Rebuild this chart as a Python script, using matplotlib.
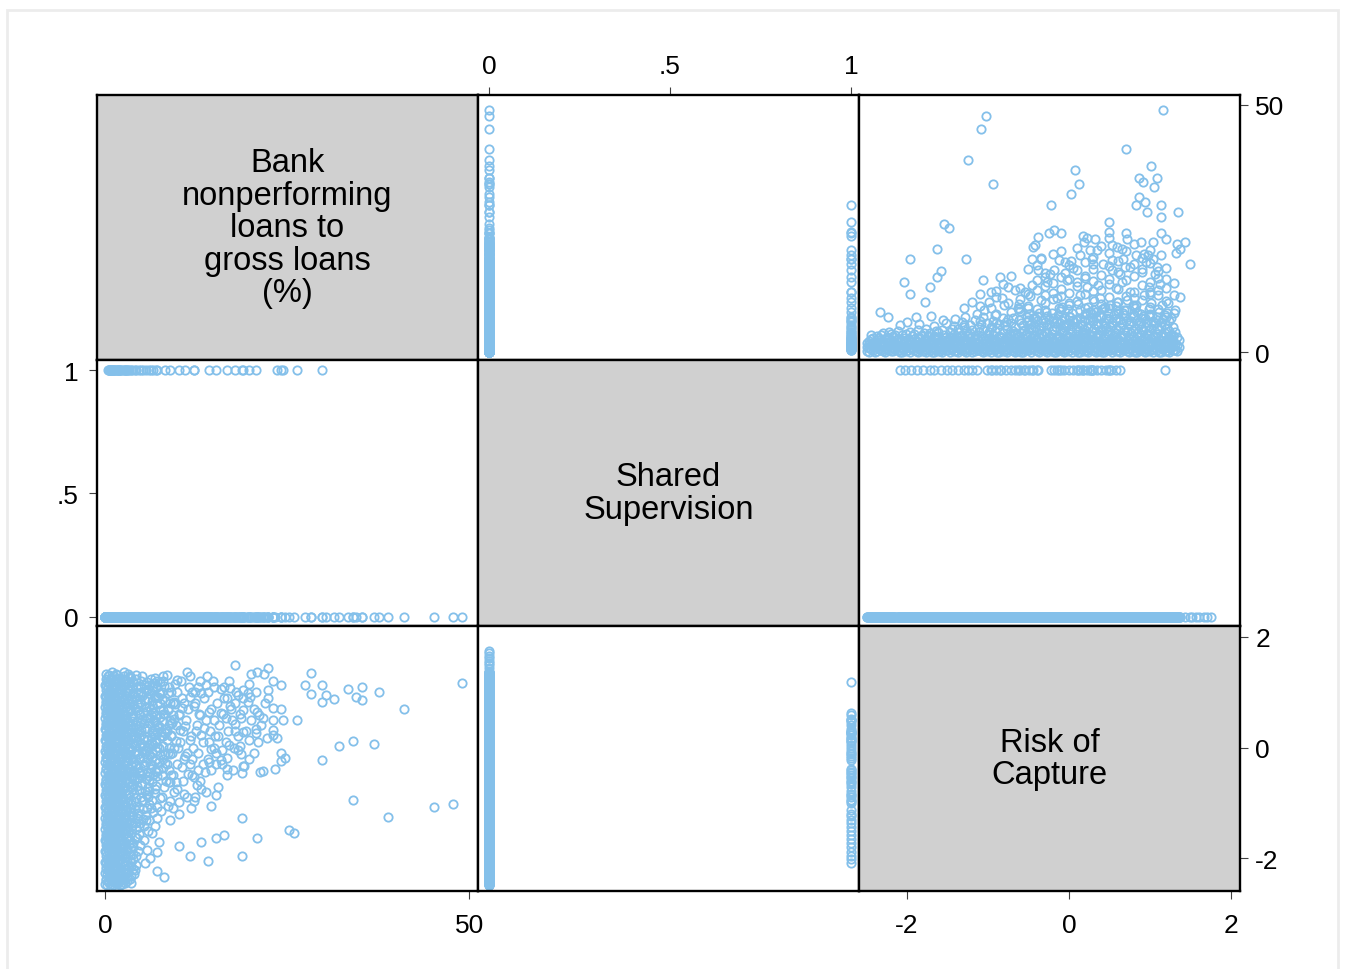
import numpy as np
import matplotlib.pyplot as plt
from matplotlib.patches import Rectangle

plt.rcParams['font.family'] = ['Liberation Sans', 'DejaVu Sans']

# --- data ------------------------------------------------------------------
# dense core (shared supervision = 0): one row of NPL values per risk level
risk_core_rows = [
    -2.49, -2.44, -2.39, -2.34, -2.29, -2.24, -2.19, -2.14, -2.09, -2.04,
    -1.99, -1.94, -1.89, -1.84, -1.79, -1.74, -1.69, -1.64, -1.59, -1.54,
    -1.49, -1.44, -1.39, -1.34, -1.29, -1.24, -1.19, -1.14, -1.09, -1.04,
    -0.99, -0.94, -0.89, -0.84, -0.79, -0.74, -0.69, -0.64, -0.59, -0.54,
    -0.49, -0.44, -0.39, -0.34, -0.29, -0.24, -0.19, -0.14, -0.09, -0.04,
    0.01, 0.06, 0.11, 0.16, 0.21, 0.26, 0.31, 0.36, 0.41, 0.46,
    0.51, 0.56, 0.61, 0.66, 0.71, 0.76, 0.81, 0.86, 0.91, 0.96,
    1.01, 1.06, 1.11, 1.16, 1.21, 1.26, 1.31, 1.36,
]
npl_core_rows = [
    [0.3, 1.1, 2.0], [0.6, 1.5, 2.7, 3.5], [0.1, 1.0, 2.2], [0.7, 1.7, 3.0],
    [0.3, 1.3, 2.4, 4.0], [0.9, 1.9, 3.2], [0.2, 1.4, 2.6], [0.6, 1.7, 3.6],
    [0.1, 1.1, 2.3], [0.7, 1.9, 3.0],
    [0.4, 1.5, 2.7], [0.9, 2.1, 3.4], [0.2, 1.2, 2.4], [0.6, 1.7, 3.0],
    [0.3, 1.3, 2.5, 3.9], [0.8, 2.0, 3.3], [0.1, 1.1, 2.6], [0.5, 1.6, 2.9, 4.4],
    [0.2, 1.3, 2.2], [0.8, 1.9, 3.5],
    [0.4, 1.4, 2.7], [0.9, 2.1, 3.1, 4.7], [0.2, 1.2, 2.4], [0.6, 1.7, 3.3],
    [0.3, 1.5, 2.6, 5.2], [0.8, 2.0, 3.7], [0.1, 1.1, 2.3, 4.5], [0.5, 1.6, 2.9],
    [0.2, 1.3, 3.4, 5.8], [0.7, 1.9, 2.6],
    [0.4, 1.5, 3.0, 4.2], [0.9, 2.2, 3.6, 6.4], [0.1, 1.2, 2.4, 4.9], [0.6, 1.7, 3.1],
    [0.3, 1.4, 2.7, 5.5], [0.8, 2.0, 3.8], [0.2, 1.1, 2.5, 4.4, 7.0], [0.5, 1.6, 3.2],
    [0.1, 1.3, 2.3, 4.0, 6.0], [0.7, 1.8, 3.5],
    [0.4, 1.5, 2.6, 5.0, 7.8], [0.9, 2.1, 3.3, 4.6], [0.2, 1.2, 2.8, 6.3],
    [0.6, 1.7, 3.7, 5.4], [0.3, 1.4, 2.5, 4.2, 8.5], [0.8, 2.0, 3.1, 6.8],
    [0.1, 1.1, 2.4, 4.7, 5.9], [0.5, 1.6, 3.4, 7.6], [0.2, 1.3, 2.7, 4.1, 9.2],
    [0.7, 1.9, 3.6, 5.6],
    [0.4, 1.5, 2.3, 4.8, 7.2], [0.9, 2.2, 3.0, 6.1], [0.1, 1.2, 2.6, 4.4, 9.7],
    [0.6, 1.8, 3.5, 5.3], [0.3, 1.4, 2.9, 4.0, 8.0], [0.8, 2.0, 3.3, 6.6],
    [0.2, 1.1, 2.5, 4.9, 10.3], [0.5, 1.7, 3.8, 5.8], [0.1, 1.3, 2.7, 4.3, 8.8],
    [0.7, 1.9, 3.1, 6.9],
    [0.4, 1.5, 2.4, 5.1, 9.5], [0.9, 2.1, 3.6, 7.5], [0.2, 1.2, 2.8, 4.6, 8.3],
    [0.6, 1.8, 3.4, 5.7], [0.3, 1.4, 2.5, 4.1, 10.6], [0.8, 2.0, 3.9, 6.4],
    [0.1, 1.1, 2.7, 4.8, 8.9], [0.5, 1.6, 3.2, 5.5], [0.2, 1.3, 2.4, 4.3, 7.3],
    [0.7, 1.9, 3.7, 6.2],
    [0.4, 1.5, 2.9, 4.9, 9.9], [0.9, 2.2, 3.4, 5.9], [0.1, 1.2, 2.6, 4.5, 8.1],
    [0.6, 1.8, 3.1, 6.7], [0.3, 1.4, 2.8, 4.9, 7.9], [0.8, 2.1, 3.6],
    [0.5, 1.7, 4.2], [1.0, 2.6],
]

# second pass over the core, rows in between the first ones
risk_core2_rows = [
    -2.465, -2.415, -2.365, -2.315, -2.265, -2.215, -2.165, -2.115, -2.065, -2.015,
    -1.965, -1.915, -1.865, -1.815, -1.765, -1.715, -1.665, -1.615, -1.565, -1.515,
    -1.465, -1.415, -1.365, -1.315, -1.265, -1.215, -1.165, -1.115, -1.065, -1.015,
    -0.965, -0.915, -0.865, -0.815, -0.765, -0.715, -0.665, -0.615, -0.565, -0.515,
    -0.465, -0.415, -0.365, -0.315, -0.265, -0.215, -0.165, -0.115, -0.065, -0.015,
    0.035, 0.085, 0.135, 0.185, 0.235, 0.285, 0.335, 0.385, 0.435, 0.485,
    0.535, 0.585, 0.635, 0.685, 0.735, 0.785, 0.835, 0.885, 0.935, 0.985,
    1.035, 1.085, 1.135, 1.185, 1.235, 1.285, 1.335,
]
npl_core2_rows = [
    [0.0, 0.8, 1.6, 2.4], [0.4, 1.3, 2.0, 3.0], [0.2, 1.0, 1.9, 2.6, 3.4],
    [0.5, 1.5, 2.1, 3.6], [0.0, 0.7, 1.6, 2.8], [0.4, 1.2, 2.1, 3.0, 4.1],
    [0.2, 0.9, 1.8, 3.3], [0.5, 1.4, 2.6, 4.3], [0.0, 0.8, 1.6, 2.5, 3.6],
    [0.3, 1.0, 2.1, 3.8],
    [0.1, 0.8, 1.8, 2.3, 4.2], [0.5, 1.6, 2.7, 3.8], [0.0, 0.9, 1.5, 3.0, 4.5],
    [0.3, 1.1, 2.2, 3.6], [0.1, 0.6, 1.7, 2.8, 4.8], [0.4, 1.4, 2.4, 3.9],
    [0.0, 0.8, 1.9, 3.4, 5.3], [0.3, 1.0, 2.0, 3.1, 4.1], [0.1, 0.6, 1.7, 2.6, 4.6],
    [0.5, 1.2, 2.3, 3.2, 5.9],
    [0.0, 0.9, 1.8, 3.0, 4.2], [0.3, 1.6, 2.6, 3.7, 5.4], [0.1, 0.8, 1.9, 2.9, 4.8],
    [0.5, 1.1, 2.3, 3.5, 6.1], [0.0, 0.6, 1.6, 2.6, 4.4], [0.4, 1.5, 2.9, 3.9, 5.6],
    [0.2, 0.9, 2.0, 3.4, 6.6], [0.5, 1.3, 2.4, 4.1, 5.2], [0.0, 0.8, 1.7, 2.9, 4.6, 7.2],
    [0.3, 1.2, 2.3, 3.5, 6.0],
    [0.1, 0.7, 1.8, 2.7, 5.1], [0.4, 1.3, 2.5, 4.3, 7.6], [0.0, 0.9, 1.9, 3.3, 5.8],
    [0.3, 1.5, 2.2, 4.0, 6.9], [0.1, 0.6, 1.7, 3.0, 4.7], [0.5, 1.3, 2.8, 3.6, 5.9, 8.1],
    [0.0, 0.9, 2.0, 3.9, 5.1], [0.3, 1.1, 2.4, 3.3, 6.5, 8.8],
    [0.1, 0.7, 1.9, 2.9, 4.4, 5.6], [0.5, 1.3, 2.2, 3.8, 6.1, 7.1],
    [0.0, 0.8, 1.8, 3.0, 4.8, 5.7], [0.4, 1.5, 2.5, 3.6, 5.1, 7.0],
    [0.1, 0.9, 2.1, 3.2, 4.5, 8.0], [0.5, 1.2, 1.9, 3.5, 5.3, 6.5],
    [0.0, 0.7, 1.6, 2.7, 4.0, 5.6, 7.4], [0.3, 1.3, 2.1, 3.7, 4.6, 7.9],
    [0.1, 0.8, 1.9, 2.9, 5.2, 6.4], [0.4, 1.1, 2.4, 3.1, 4.5, 6.0, 8.3],
    [0.0, 0.6, 1.6, 2.8, 4.3, 5.1, 7.0], [0.3, 1.2, 2.0, 3.4, 5.9, 8.8],
    [0.1, 0.9, 1.9, 2.7, 4.1, 5.4, 7.9], [0.5, 1.5, 2.3, 3.7, 4.9, 6.5],
    [0.0, 0.7, 1.7, 3.2, 5.7, 7.0, 8.5], [0.3, 1.1, 2.2, 3.8, 4.7, 6.3],
    [0.1, 0.9, 1.9, 2.5, 5.0, 6.8, 9.1], [0.5, 1.6, 2.6, 3.6, 4.4, 7.7],
    [0.0, 0.8, 2.0, 3.1, 5.5, 6.9, 8.2], [0.3, 1.3, 2.3, 3.5, 4.6, 7.4],
    [0.1, 0.7, 1.7, 3.0, 5.4, 6.1, 9.0], [0.4, 1.2, 2.1, 3.7, 4.4, 6.8, 8.0],
    [0.0, 0.9, 1.8, 2.9, 5.6, 6.2], [0.3, 1.5, 2.6, 3.9, 4.8, 7.0, 9.3],
    [0.1, 0.8, 1.7, 3.2, 5.2, 6.6], [0.5, 1.1, 2.2, 3.6, 4.5, 7.5, 8.6],
    [0.0, 0.7, 1.9, 2.9, 5.6, 6.0], [0.3, 1.3, 2.4, 3.4, 4.4, 7.2, 9.6],
    [0.1, 0.9, 2.0, 3.9, 6.5, 8.2], [0.5, 1.5, 2.6, 3.5, 4.7, 5.9, 7.8],
    [0.0, 0.8, 1.7, 3.0, 5.1, 6.9], [0.3, 1.2, 2.2, 3.8, 4.5, 7.4, 8.7],
    [0.1, 0.7, 1.9, 3.1, 5.6, 6.4], [0.4, 1.4, 2.4, 3.7, 4.9, 7.1],
    [0.0, 0.9, 2.0, 3.3, 5.3, 6.1], [0.3, 1.1, 2.2, 3.9, 5.8, 7.5],
    [0.1, 0.8, 1.6, 2.8, 4.3, 6.3], [0.4, 1.2, 2.6, 3.4, 5.1],
    [0.2, 1.5, 3.1],
]

# middle band: NPL 5-25 for moderate and high risk scores
risk_mid_rows = [
    -1.30, -1.10, -0.90, -0.75, -0.60, -0.50, -0.40, -0.30, -0.20, -0.10,
    0.00, 0.10, 0.20, 0.30, 0.40, 0.50, 0.60, 0.70, 0.80, 0.90,
    1.00, 1.10, 1.20, 1.30,
]
npl_mid_rows = [
    [5.6, 8.9], [6.3, 9.4], [5.9, 7.8, 11.2], [6.8, 9.9],
    [8.4, 10.7, 13.1], [6.6, 9.4, 11.9, 16.8], [7.3, 8.8, 12.7, 17.6],
    [6.2, 9.9, 13.5, 16.1], [7.0, 10.8, 14.1, 19.8], [6.5, 8.7, 11.3, 15.3, 20.4],
    [7.4, 9.5, 12.1, 14.9, 17.7], [6.8, 10.3, 13.4, 16.6, 21.0],
    [7.7, 9.0, 11.8, 15.1, 18.2], [6.4, 8.5, 10.7, 14.4, 16.9, 19.3],
    [7.1, 9.8, 12.6, 15.6, 21.4], [6.7, 8.9, 11.1, 13.8, 17.5, 20.1],
    [7.9, 10.1, 12.9, 16.2, 18.5], [6.3, 8.6, 11.4, 14.6, 20.4],
    [7.5, 9.3, 12.3, 15.4, 17.8, 21.9], [6.9, 10.6, 13.6, 16.8, 19.0],
    [7.8, 9.1, 11.9, 14.2, 18.0, 20.7], [6.6, 8.8, 12.7, 15.0, 16.4],
    [7.2, 10.4, 13.1, 17.0], [8.0, 11.6, 14.0],
]

# scattered observations (shared supervision = 0)
npl_scatter = [
    47.8, 45.1, 38.9, 34.1, 49.0, 41.0, 36.9, 34.1,
    32.1, 37.6, 35.3, 34.4, 35.3, 33.4, 31.4, 29.8,
    30.4, 28.3, 29.8, 27.4, 28.3,
    25.9, 25.2, 20.8, 18.8, 18.8, 16.4, 15.2, 14.2,
    13.2, 11.7, 14.6, 10.1, 8.1, 7.1, 7.1, 6.8,
    7.1, 7.7, 15.5, 13.9, 13.2, 12.6, 23.3, 21.7,
    21.3, 19.1, 15.2, 14.6, 10.9, 10.2, 8.9, 3.8,
    5.5,
    24.2, 24.7, 23.0, 23.1, 24.1, 23.0, 23.1, 21.7,
    21.2, 20.9, 22.4, 22.4, 24.2, 23.0, 21.8, 22.4,
    20.9, 20.0, 17.8, 11.2, 19.7, 19.9, 19.6, 19.6,
    18.9, 18.3, 18.9, 17.3, 18.6, 17.9, 16.6, 15.9,
    17.2, 17.2, 15.9, 13.9, 11.5, 20.7, 22.3, 18.6,
    18.3, 18.5, 18.9, 16.7, 15.9, 14.6, 17.0, 13.2,
    13.6, 14.9, 14.3, 12.2, 11.6, 13.2, 9.9, 8.5,
    6.9, 3.4, 14.3, 11.6, 11.6, 11.0, 10.2, 9.5,
    8.9, 7.9, 7.5,
    9.0, 10.5, 12.0, 9.8, 11.4, 8.2, 12.8, 10.0,
    12.5, 9.2, 10.9, 12.3, 9.6, 13.0, 15.5, 16.3,
    14.8, 16.0, 13.7, 9.5, 11.8, 8.6, 12.4, 6.5,
    7.4, 5.8, 6.2,
]
risk_scatter = [
    -1.02, -1.08, -1.25, -0.94, 1.16, 0.70, 0.07, 0.12,
    0.03, 1.01, 0.86, 0.91, 1.09, 1.05, 0.87, 0.83,
    0.94, 0.96, 1.13, 1.13, 1.34,
    -1.54, -1.48, -1.63, -1.96, -1.27, -1.58, -1.63, -2.04,
    -1.71, -1.96, -1.06, -1.77, -2.33, -2.23, -1.89, -1.41,
    -1.28, -1.14, -0.72, -0.81, -0.75, -0.67, -0.38, -0.42,
    -0.44, -0.34, -0.30, -0.40, -0.83, -0.99, -0.96, -2.19,
    -2.08,
    -0.25, -0.18, 0.32, 0.22, 0.70, 0.72, 0.50, 0.53,
    0.59, 0.65, 0.89, 1.04, 1.13, 1.20, 1.33, 1.43,
    1.37, 1.32, 1.49, 1.37, 1.14, 0.92, 0.83, 0.98,
    1.04, 0.95, 0.67, 0.69, 0.53, 0.42, 0.53, 0.63,
    0.75, 1.08, 1.06, 1.12, 1.10, 0.34, 0.18, -0.12,
    -0.05, 0.03, -0.34, -0.19, -0.23, -0.03, 0.05, 0.22,
    0.36, 0.50, 0.65, 0.75, 0.92, 0.99, 1.22, 1.31,
    1.26, 1.28, -0.27, -0.30, 0.14, 0.38, 0.59, 0.83,
    -0.12, 0.67, 0.99,
    -0.50, -0.35, -0.20, -0.62, -0.48, -0.28, -0.10, 0.00,
    0.30, 0.45, 0.80, 1.00, 1.15, 0.58, 0.20, 0.90,
    1.20, -0.05, -0.45, -0.80, -1.10, -1.05, -0.90, -1.55,
    -1.70, -1.85, -2.00,
]

# shared supervision = 1
npl_shared = [
    0.5, 1.2, 0.8, 2.1, 1.6, 0.4, 3.0, 1.1,
    2.4, 0.7, 4.1, 1.9, 3.3, 10.1, 2.8,
    1.4, 5.2, 0.6, 2.9, 6.1, 1.8, 3.7, 0.9,
    4.6, 2.2, 7.0, 1.3, 12.2, 12.2, 15.2, 8.9,
    18.8, 16.7,
    29.8, 0.8, 3.1, 5.6, 1.5, 6.6, 2.6, 4.2,
    0.5, 7.1, 3.5, 1.9, 5.0, 2.7, 6.3, 1.0,
    24.1, 11.0, 14.3, 23.6, 19.7, 20.7, 18.9, 17.9,
    8.2, 26.3, 24.4, 1.8,
]
risk_shared = [
    -2.08, -2.02, -1.95, -1.88, -1.80, -1.72, -1.66, -1.58,
    -1.50, -1.44, -1.37, -1.30, -1.24, -1.20, -1.13,
    -1.01, -0.95, -0.90, -0.84, -0.78, -0.72, -0.66, -0.60,
    -0.55, -0.49, -0.44, -0.40, -0.96, -0.54, -0.85, -0.63,
    -0.46, -0.38,
    -0.22, -0.18, -0.12, -0.06, 0.00, 0.05, 0.11, 0.17,
    0.22, 0.28, 0.34, 0.40, 0.46, 0.52, 0.58, 0.63,
    -0.10, -0.15, 0.10, 0.17, 0.14, 0.26, 0.28, 0.30,
    0.26, 0.50, 0.50, 1.19,
]

# observations with a risk score but no NPL figure (shared = 0)
risk_no_npl = [1.52, 1.57, 1.61, 1.66, 1.70, 1.75]

labels = ['Bank\nnonperforming\nloans to\ngross loans\n(%)',
          'Shared\nSupervision', 'Risk of\nCapture']
tick_vals = [[0, 50], [0, 0.5, 1], [-2, 0, 2]]
tick_text = [['0', '50'], ['0', '.5', '1'], ['-2', '0', '2']]

# --- assemble observations --------------------------------------------------
row_groups = [(risk_core_rows, npl_core_rows), (risk_core2_rows, npl_core2_rows),
              (risk_mid_rows, npl_mid_rows)]
npl_rows = [v for _, nr in row_groups for row in nr for v in row]
risk_rows = [r for rr, nr in row_groups for r, row in zip(rr, nr) for _ in row]

npl = np.array(npl_rows + npl_scatter + npl_shared + [np.nan] * len(risk_no_npl))
risk = np.array(risk_rows + risk_scatter + risk_shared + risk_no_npl)
shared = np.array([0] * (len(npl_rows) + len(npl_scatter))
                  + [1] * len(npl_shared) + [0] * len(risk_no_npl), dtype=float)
cols = [npl, shared, risk]
# axis ranges as laid out in the reference (columns / rows)
col_limits = [(-1.1, 51.2), (-0.03, 1.022), (-2.59, 2.11)]
row_limits = [(-1.6, 52.0), (-0.037, 1.04), (-2.59, 2.2)]

marker_color = '#84c0ea'

fig, axes = plt.subplots(3, 3, figsize=(13.45, 9.70), dpi=100)
fig.subplots_adjust(left=97 / 1345, right=1240 / 1345,
                    bottom=1 - 892 / 970, top=1 - 96 / 970,
                    wspace=0, hspace=0)

for i in range(3):
    for j in range(3):
        ax = axes[i, j]
        ax.set_xlim(col_limits[j])
        ax.set_ylim(row_limits[i])
        ax.set_xticks([])
        ax.set_yticks([])
        for sp in ax.spines.values():
            sp.set_linewidth(1.7)
            sp.set_color('black')
        if i == j:
            ax.set_facecolor('#d0d0d0')
            ax.text(0.5, 0.5, labels[i], transform=ax.transAxes,
                    ha='center', va='center', fontsize=23.5, linespacing=1.06)
        else:
            ax.plot(cols[j], cols[i], 'o', ms=6.0, mfc='none',
                    mec=marker_color, mew=1.3, linestyle='none')

tick_kw = dict(length=6, width=0.8, color='#404040', labelsize=19,
               labelcolor='black')

ax = axes[0, 1]
ax.xaxis.tick_top()
ax.set_xticks(tick_vals[1], tick_text[1])
ax.tick_params(axis='x', pad=6, **tick_kw)

ax = axes[1, 0]
ax.set_yticks(tick_vals[1], tick_text[1])
ax.tick_params(axis='y', pad=7, **tick_kw)

ax = axes[0, 2]
ax.yaxis.tick_right()
ax.set_yticks(tick_vals[0], tick_text[0])
ax.tick_params(axis='y', pad=5, **tick_kw)

ax = axes[2, 2]
ax.yaxis.tick_right()
ax.set_yticks(tick_vals[2], tick_text[2])
ax.tick_params(axis='y', pad=5, **tick_kw)
ax.set_xticks(tick_vals[2], tick_text[2])
ax.tick_params(axis='x', pad=10, **tick_kw)

ax = axes[2, 0]
ax.set_xticks(tick_vals[0], tick_text[0])
ax.tick_params(axis='x', pad=10, **tick_kw)

# faint outer frame of the graph region
fig.patches.append(Rectangle((7 / 1345, -0.01), 1331 / 1345, 1.0 - 11 / 970 + 0.01,
                             transform=fig.transFigure, fill=False,
                             edgecolor='#ececec', linewidth=2))

fig.savefig('out.png', dpi=100)
